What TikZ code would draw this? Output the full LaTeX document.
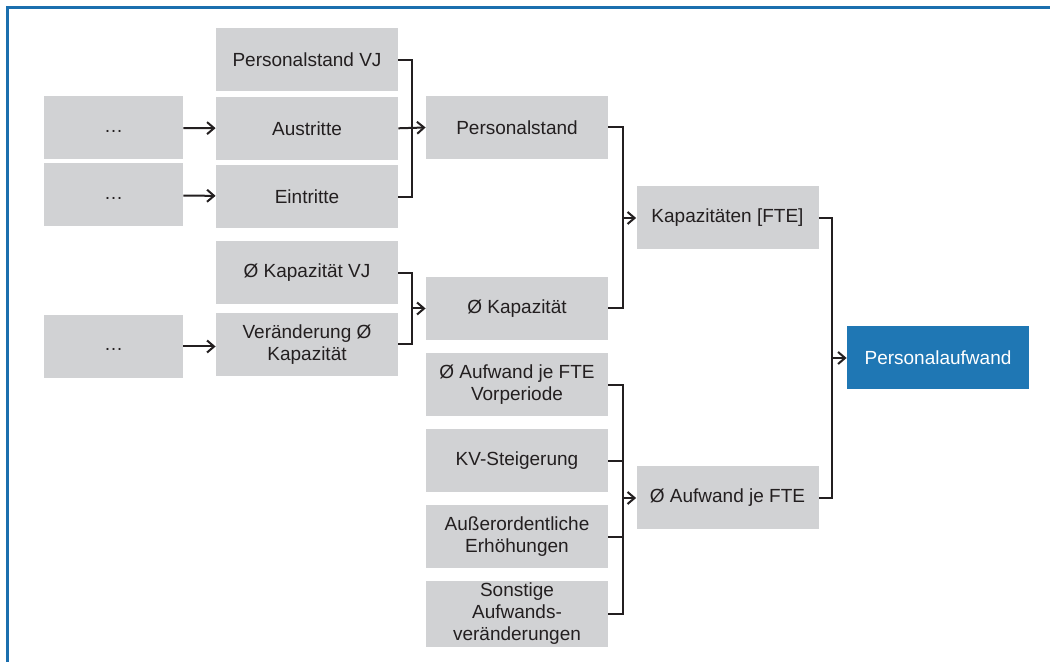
\documentclass[tikz,border=0pt]{standalone}
\usepackage{fontspec}
\setmainfont{Liberation Sans}
\usepackage{xcolor}
\usetikzlibrary{arrows.meta, positioning}
\definecolor{boxgray}{HTML}{D1D2D4}
\definecolor{txtdark}{HTML}{231F20}
\definecolor{frameblue}{HTML}{1B6FAE}
\definecolor{fillblue}{HTML}{1F77B4}

\begin{document}
\begin{tikzpicture}[
    x=0.5pt, y=-0.5pt,
    block/.style={rectangle, fill=boxgray, text=txtdark, minimum width=91pt,
                  minimum height=31.5pt, inner sep=1pt, align=center,
                  font=\fontsize{9.5}{11}\selectfont},
    small/.style={block, minimum width=69.5pt},
    conn/.style={line width=1pt, txtdark},
    arr/.style={conn, -{Straight Barb[length=3.5pt, width=6pt, line width=1pt]}}
]
\useasboundingbox (0,0) rectangle (1050,662);
\draw[frameblue, line width=1.5pt] (7,662) -- (7,8) -- (1050,8);

% left column
\node[small] (dotsA) at (113.5,128) {\strut\dots};
\node[small] (dotsB) at (113.5,195) {\strut\dots};
\node[small] (dotsC) at (113.5,346.5) {\strut\dots};

% inputs
\node[block] (psvj) at (307,60) {Personalstand VJ};
\node[block, below=2.25pt of psvj] (aus) {Austritte};
\node[block, below=2.25pt of aus] (ein) {Eintritte};
\node[block] (kapvj) at (307,273) {Ø Kapazität VJ};
\node[block, below=3.75pt of kapvj] (ver) {Veränderung Ø\\Kapazität};

% second level
\node[block] (ps) at (517,127.5) {Personalstand};
\node[block] (kap) at (517,308.5) {Ø Kapazität};
\node[block] (avp) at (517,385) {Ø Aufwand je FTE\\Vorperiode};
\node[block, below=6pt of avp] (kv) {KV-Steigerung};
\node[block, below=6pt of kv] (ao) {Außerordentliche\\Erhöhungen};
\node[block, below=6pt of ao] (sonst) {Sonstige\\Aufwands-\\veränderungen};

% third level
\node[block] (kapfte) at (727.5,218) {Kapazitäten [FTE]};
\node[block] (afte) at (727.5,498) {Ø Aufwand je FTE};
\node[block, fill=fillblue, text=white] (pa) at (938,358) {Personalaufwand};

% junction lines
\coordinate (jA) at (412,0);
\coordinate (jB) at (623,0);
\coordinate (jC) at (832,0);

\draw[arr] (dotsA) -- (aus);
\draw[arr] (dotsB) -- (ein);
\draw[arr] (dotsC) -- (dotsC -| ver.west);

\draw[conn] (psvj.east) -- (psvj.east -| jA) -- (ein.east -| jA) -- (ein.east);
\draw[arr] (aus.east) -- (ps.west);
\draw[conn] (kapvj.east) -- (kapvj.east -| jA) -- (ver.east -| jA) -- (ver.east);
\draw[arr] (kap.west -| jA) -- (kap.west);

\draw[conn] (ps.east) -- (ps.east -| jB) -- (kap.east -| jB) -- (kap.east);
\draw[arr] (kapfte.west -| jB) -- (kapfte.west);
\draw[conn] (avp.east) -- (avp.east -| jB) -- (sonst.east -| jB) -- (sonst.east);
\draw[conn] (kv.east) -- (kv.east -| jB);
\draw[conn] (ao.east) -- (ao.east -| jB);
\draw[arr] (afte.west -| jB) -- (afte.west);

\draw[conn] (kapfte.east) -- (kapfte.east -| jC) -- (afte.east -| jC) -- (afte.east);
\draw[arr] (pa.west -| jC) -- (pa.west);
\end{tikzpicture}
\end{document}
